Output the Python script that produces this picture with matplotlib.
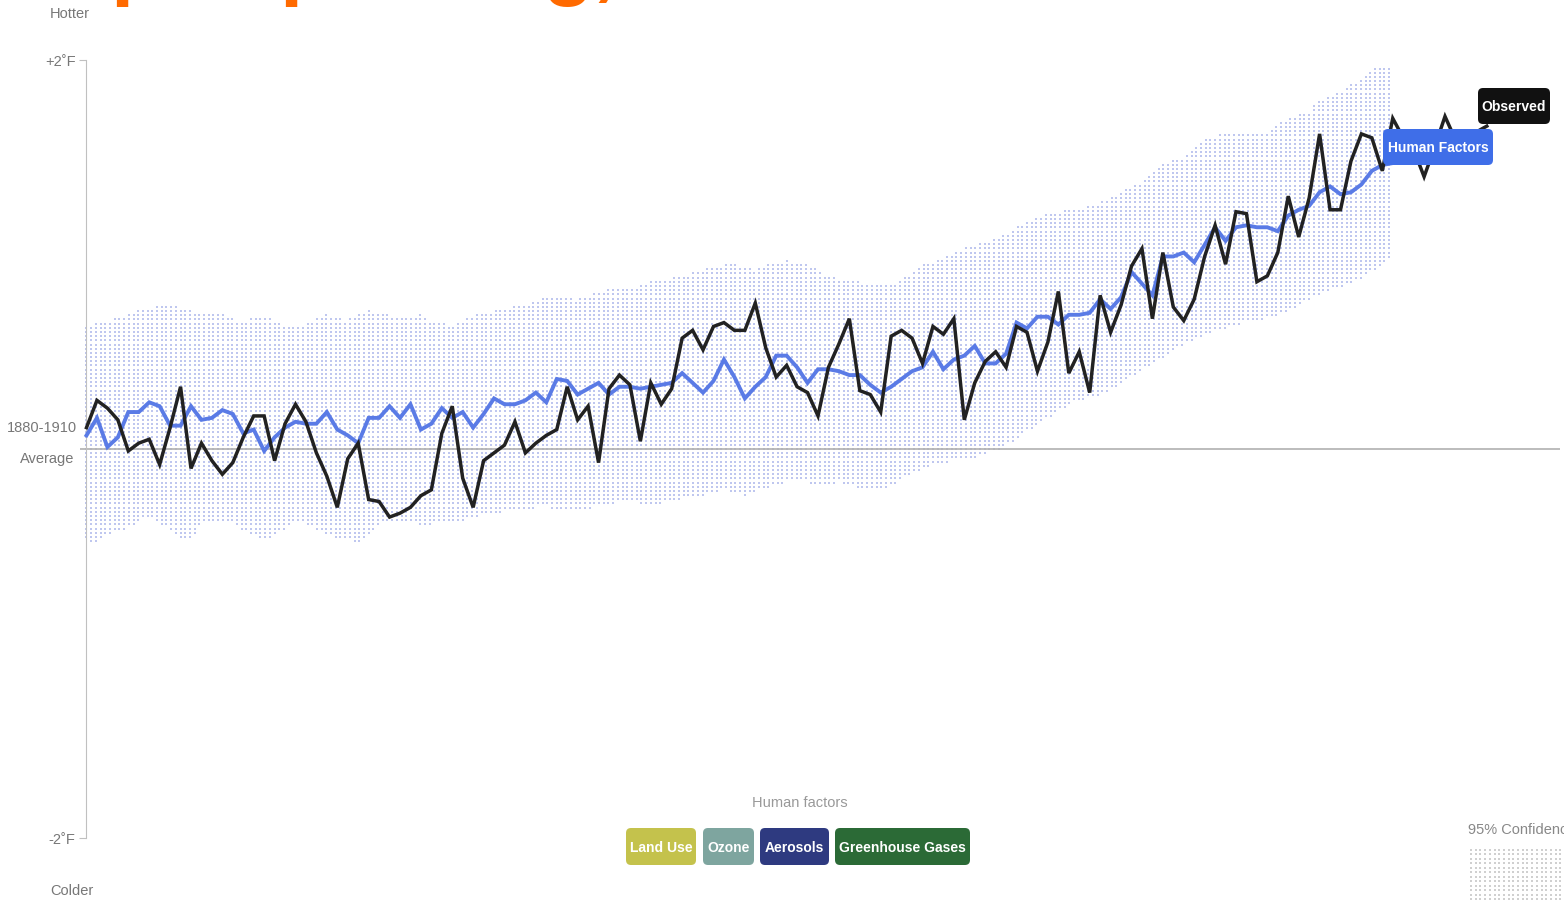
import numpy as np
import matplotlib
matplotlib.use('Agg')
from matplotlib import pyplot as plt
from matplotlib.patches import FancyBboxPatch
from matplotlib.transforms import IdentityTransform

# observed temperature, deg F vs 1880-1910 average, 1880..2014
years_obs = np.arange(1880, 2015)
observed = [
    0.11, 0.25, 0.21, 0.15, -0.01, 0.03, 0.05, -0.08, 0.11, 0.32,   # 1880s
    -0.10, 0.03, -0.06, -0.13, -0.07, 0.06, 0.17, 0.17, -0.06, 0.13, # 1890s
    0.23, 0.14, -0.02, -0.14, -0.30, -0.05, 0.03, -0.26, -0.27, -0.35, # 1900s
    -0.33, -0.30, -0.24, -0.21, 0.08, 0.22, -0.15, -0.30, -0.06, -0.02, # 1910s
    0.02, 0.14, -0.02, 0.03, 0.07, 0.10, 0.32, 0.15, 0.22, -0.07,    # 1920s
    0.31, 0.38, 0.33, 0.04, 0.34, 0.23, 0.31, 0.57, 0.61, 0.51,      # 1930s
    0.63, 0.65, 0.61, 0.61, 0.75, 0.52, 0.37, 0.43, 0.32, 0.29,      # 1940s
    0.17, 0.42, 0.54, 0.67, 0.30, 0.28, 0.19, 0.58, 0.61, 0.57,      # 1950s
    0.44, 0.63, 0.59, 0.67, 0.15, 0.34, 0.45, 0.50, 0.42, 0.63,      # 1960s
    0.60, 0.40, 0.55, 0.81, 0.39, 0.50, 0.29, 0.79, 0.60, 0.74,      # 1970s
    0.94, 1.03, 0.67, 1.01, 0.73, 0.66, 0.77, 0.99, 1.15, 0.95,      # 1980s
    1.22, 1.21, 0.86, 0.89, 1.01, 1.30, 1.09, 1.29, 1.62, 1.23,      # 1990s
    1.23, 1.48, 1.62, 1.60, 1.43, 1.70, 1.60, 1.54, 1.40, 1.55,      # 2000s
    1.71, 1.59, 1.61, 1.63, 1.66,                                    # 2010s
]

# modelled human factors, 1880..2005
years_model = np.arange(1880, 2006)
human = [
    0.07, 0.16, 0.01, 0.06, 0.19, 0.19, 0.24, 0.22, 0.12, 0.12,
    0.22, 0.15, 0.16, 0.20, 0.18, 0.08, 0.10, -0.01, 0.06, 0.11,
    0.14, 0.13, 0.13, 0.19, 0.10, 0.07, 0.03, 0.16, 0.16, 0.22,
    0.16, 0.23, 0.10, 0.13, 0.21, 0.16, 0.19, 0.11, 0.18, 0.26,
    0.23, 0.23, 0.25, 0.29, 0.24, 0.36, 0.35, 0.28, 0.31, 0.34,
    0.28, 0.32, 0.32, 0.31, 0.32, 0.33, 0.34, 0.39, 0.34, 0.29,
    0.35, 0.46, 0.37, 0.26, 0.32, 0.37, 0.48, 0.48, 0.42, 0.34,
    0.41, 0.41, 0.40, 0.38, 0.38, 0.33, 0.29, 0.32, 0.36, 0.40,
    0.42, 0.50, 0.41, 0.46, 0.48, 0.53, 0.44, 0.44, 0.49, 0.65,
    0.62, 0.68, 0.68, 0.64, 0.69, 0.69, 0.70, 0.77, 0.72, 0.78,
    0.91, 0.85, 0.79, 0.99, 0.99, 1.01, 0.96, 1.05, 1.14, 1.07,
    1.14, 1.15, 1.14, 1.14, 1.12, 1.20, 1.23, 1.25, 1.32, 1.35,
    1.31, 1.32, 1.36, 1.43, 1.46, 1.47,
]

# 95% confidence band of the model
band_hi = [
    0.64, 0.65, 0.66, 0.67, 0.69, 0.71, 0.72, 0.74, 0.74, 0.73,
    0.71, 0.70, 0.69, 0.69, 0.67, 0.66, 0.67, 0.69, 0.66, 0.64,
    0.62, 0.65, 0.67, 0.69, 0.67, 0.66, 0.69, 0.71, 0.70, 0.69,
    0.67, 0.67, 0.69, 0.66, 0.65, 0.64, 0.66, 0.69, 0.70, 0.71,
    0.72, 0.74, 0.74, 0.77, 0.78, 0.79, 0.78, 0.77, 0.79, 0.81,
    0.82, 0.82, 0.83, 0.84, 0.86, 0.87, 0.88, 0.89, 0.91, 0.92,
    0.93, 0.95, 0.96, 0.93, 0.92, 0.95, 0.96, 0.97, 0.96, 0.95,
    0.92, 0.89, 0.88, 0.87, 0.86, 0.84, 0.84, 0.85, 0.87, 0.91,
    0.95, 0.96, 0.98, 1.01, 1.03, 1.05, 1.06, 1.08, 1.11, 1.14,
    1.17, 1.19, 1.21, 1.22, 1.23, 1.24, 1.25, 1.27, 1.29, 1.32,
    1.35, 1.38, 1.42, 1.47, 1.49, 1.50, 1.54, 1.59, 1.61, 1.62,
    1.62, 1.63, 1.63, 1.63, 1.67, 1.70, 1.72, 1.74, 1.79, 1.82,
    1.84, 1.87, 1.91, 1.95, 1.97, 1.98,
]
band_lo = [
    -0.47, -0.48, -0.44, -0.42, -0.41, -0.37, -0.35, -0.38, -0.42, -0.47,
    -0.46, -0.39, -0.38, -0.37, -0.37, -0.42, -0.44, -0.47, -0.44, -0.41,
    -0.38, -0.39, -0.42, -0.44, -0.46, -0.47, -0.48, -0.44, -0.39, -0.38,
    -0.37, -0.38, -0.39, -0.39, -0.38, -0.37, -0.37, -0.35, -0.34, -0.34,
    -0.32, -0.31, -0.31, -0.30, -0.30, -0.31, -0.32, -0.32, -0.31, -0.29,
    -0.29, -0.27, -0.26, -0.29, -0.30, -0.29, -0.26, -0.26, -0.25, -0.24,
    -0.22, -0.21, -0.22, -0.24, -0.22, -0.20, -0.19, -0.17, -0.16, -0.17,
    -0.19, -0.19, -0.17, -0.19, -0.20, -0.21, -0.20, -0.19, -0.16, -0.13,
    -0.11, -0.08, -0.07, -0.06, -0.06, -0.05, -0.03, -0.01, 0.02, 0.05,
    0.09, 0.12, 0.16, 0.19, 0.23, 0.25, 0.26, 0.28, 0.30, 0.33,
    0.37, 0.41, 0.43, 0.47, 0.51, 0.53, 0.56, 0.59, 0.61, 0.62,
    0.64, 0.65, 0.66, 0.67, 0.69, 0.71, 0.74, 0.77, 0.79, 0.82,
    0.83, 0.85, 0.88, 0.91, 0.95, 0.98,
]

factors = ['Land Use', 'Ozone', 'Aerosols', 'Greenhouse Gases']
factor_colors = ['#c4c24c', '#7ea59f', '#2e3a80', '#2b6a36']

FONT = ['Liberation Sans', 'DejaVu Sans']
W, H = 1564, 901


def fx(px):
    return px / W


def fy(py):
    return 1 - py / H


fig = plt.figure(figsize=(W / 100, H / 100), dpi=100)


def pill(x0, x1, ytop, ybot, color, text, r=5):
    # rounded label box given in picture pixels
    box = FancyBboxPatch((x0 + r, H - ybot + r), x1 - x0 - 2 * r, ybot - ytop - 2 * r,
                         boxstyle='round,pad=%d' % r, fc=color, ec='none',
                         transform=IdentityTransform(), zorder=10)
    fig.add_artist(box)
    fig.text(fx((x0 + x1) / 2), fy((ytop + ybot) / 2 + 1), text, ha='center', va='center',
             color='white', fontsize=10, weight='bold', family=FONT, zorder=11)


ax = fig.add_axes([fx(80), fy(838), (1560 - 80) / W, (838 - 60) / H])
ppy = 10.45  # pixels per year
ax.set_xlim(1880 - 6.5 / ppy, 1880 + (1560 - 86.5) / ppy)
ax.set_ylim(-2, 2)

# dotted confidence band
gx, gy = np.meshgrid(np.arange(1880, 2005.01, 0.45), np.arange(-2, 2, 0.0215))
top = np.interp(gx, years_model, band_hi)
bot = np.interp(gx, years_model, band_lo)
m = (gy <= top) & (gy >= bot)
ax.scatter(gx[m], gy[m], s=3.0, marker='s', c='#bfc7ef', linewidths=0, zorder=1)

ax.axhline(0, color='#b0b0b0', lw=1.2, zorder=2)
ax.plot(years_model, human, color='#5a7be6', lw=2.8, solid_joinstyle='miter', zorder=3)
ax.plot(years_obs, observed, color='#222222', lw=2.5, solid_joinstyle='miter', zorder=4)

for s in ['top', 'right', 'bottom']:
    ax.spines[s].set_visible(False)
ax.spines['left'].set_position(('data', 1880))
ax.spines['left'].set_bounds(-2, 2)
ax.spines['left'].set_color('#c0c0c0')
ax.set_xticks([])
ax.set_yticks([-2, 2], ['-2˚F', '+2˚F'])
ax.tick_params(axis='y', length=5, color='#c0c0c0', labelcolor='#777777',
               labelsize=10.5, pad=3)
for t in ax.get_yticklabels():
    t.set_family(FONT)

gray = dict(va='center', color='#777777', fontsize=10.5, family=FONT)
fig.text(fx(70), fy(14), 'Hotter', ha='center', **gray)
fig.text(fx(72), fy(891), 'Colder', ha='center', **gray)
fig.text(fx(77), fy(428), '1880-1910', ha='right', **gray)
fig.text(fx(74), fy(459), 'Average', ha='right', **gray)

# end labels
pill(1478, 1550, 88, 124, '#111111', 'Observed')
pill(1383, 1493, 129, 165, '#3f6ee8', 'Human Factors')

# human factors legend
fig.text(fx(800), fy(803), 'Human factors', ha='center', va='center', color='#999999',
         fontsize=10.5, family=FONT)
spans = [(626, 696), (703, 754), (760, 829), (835, 970)]
for name, col, (x0, x1) in zip(factors, factor_colors, spans):
    pill(x0, x1, 828, 865, col, name)

# confidence legend
fig.text(fx(1468), fy(830), '95% Confidence', ha='left', va='center', color='#888888',
         fontsize=10.5, family=FONT)
lax = fig.add_axes([fx(1468), 0, (W - 1468) / W, (H - 848) / H])
lax.set_xlim(0, 96)
lax.set_ylim(0, 53)
lax.axis('off')
lx, ly = np.meshgrid(np.arange(3, 120, 4.7), np.arange(2, 53, 4.5))
lax.scatter(lx.ravel(), ly.ravel(), s=3.0, marker='s', c='#d0d0d0', linewidths=0)

# cut-off orange headline at the top edge
for px, txt in [(110, 'p'), (279, 'p'), (543, 'g,')]:
    fig.text(fx(px), 1 + 10 / H, txt, ha='left', va='baseline', color='#ff6a00',
             fontsize=60, weight='bold', family=FONT)

fig.savefig('out.png', dpi=100)
